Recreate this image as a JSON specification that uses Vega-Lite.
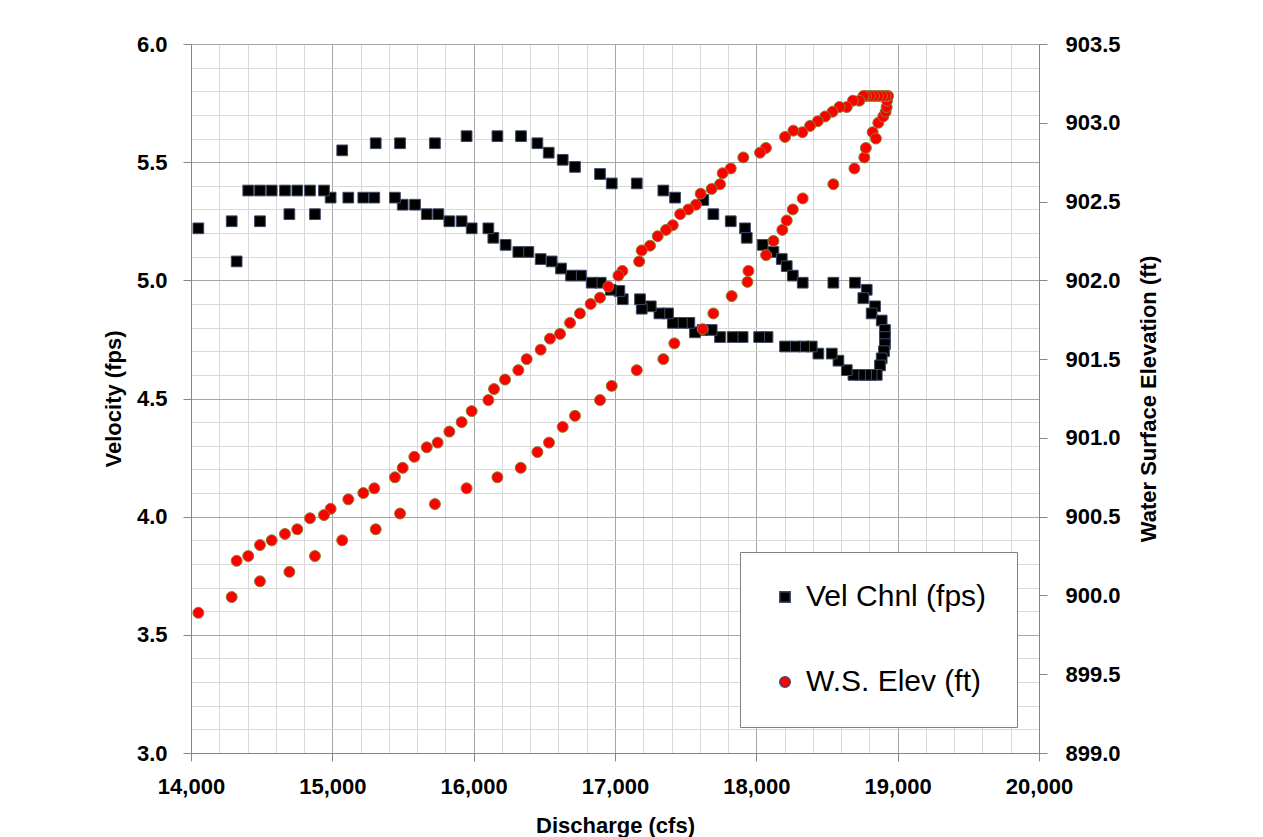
{
  "$schema": "https://vega.github.io/schema/vega-lite/v6.json",
  "width": 848,
  "height": 709,
  "autosize": {"type": "none"},
  "padding": {"left": 191, "top": 44, "right": 224, "bottom": 84},
  "background": "white",
  "config": {
    "view": {"stroke": null},
    "font": "Liberation Sans",
    "axis": {"labelFont": "Liberation Sans", "titleFont": "Liberation Sans", "labelOverlap": false}
  },
  "datasets": {
    "vel": [
      {"q":14052,"v":5.22},{"q":14288,"v":5.25},{"q":14488,"v":5.25},{"q":14696,"v":5.28},{"q":14877,"v":5.28},
      {"q":15070,"v":5.55},{"q":15307,"v":5.58},{"q":15479,"v":5.58},{"q":15726,"v":5.58},{"q":15950,"v":5.61},
      {"q":16168,"v":5.61},{"q":16335,"v":5.61},{"q":16451,"v":5.58},{"q":16531,"v":5.54},{"q":16630,"v":5.51},
      {"q":16717,"v":5.48},{"q":16894,"v":5.45},{"q":16977,"v":5.41},{"q":17154,"v":5.41},{"q":17342,"v":5.38},
      {"q":17425,"v":5.35},{"q":17625,"v":5.34},{"q":17696,"v":5.28},{"q":17819,"v":5.25},{"q":17920,"v":5.22},
      {"q":17932,"v":5.18},{"q":18045,"v":5.15},{"q":18121,"v":5.12},{"q":18180,"v":5.09},{"q":18215,"v":5.06},
      {"q":18258,"v":5.02},{"q":18328,"v":4.99},{"q":18545,"v":4.99},{"q":18698,"v":4.99},{"q":18781,"v":4.96},
      {"q":18757,"v":4.925},{"q":18840,"v":4.89},{"q":18816,"v":4.86},{"q":18887,"v":4.83},{"q":18910,"v":4.79},
      {"q":18910,"v":4.76},{"q":18910,"v":4.73},{"q":18903,"v":4.70},{"q":18887,"v":4.67},{"q":18875,"v":4.64},
      {"q":18852,"v":4.60},{"q":18816,"v":4.60},{"q":18776,"v":4.60},{"q":18734,"v":4.60},{"q":18687,"v":4.60},
      {"q":18640,"v":4.62},{"q":18581,"v":4.66},{"q":18534,"v":4.69},{"q":18439,"v":4.69},{"q":18392,"v":4.72},
      {"q":18338,"v":4.72},{"q":18274,"v":4.72},{"q":18203,"v":4.72},{"q":18079,"v":4.76},{"q":18020,"v":4.76},
      {"q":17903,"v":4.76},{"q":17832,"v":4.76},{"q":17743,"v":4.76},{"q":17684,"v":4.79},{"q":17620,"v":4.79},
      {"q":17566,"v":4.78},{"q":17526,"v":4.82},{"q":17473,"v":4.82},{"q":17409,"v":4.82},{"q":17375,"v":4.86},
      {"q":17314,"v":4.86},{"q":17253,"v":4.89},{"q":17189,"v":4.88},{"q":17177,"v":4.92},{"q":17055,"v":4.92},
      {"q":17031,"v":4.955},{"q":16970,"v":4.96},{"q":16899,"v":4.99},{"q":16835,"v":4.99},{"q":16759,"v":5.02},
      {"q":16689,"v":5.02},{"q":16618,"v":5.05},{"q":16552,"v":5.08},{"q":16474,"v":5.09},{"q":16387,"v":5.12},
      {"q":16316,"v":5.12},{"q":16226,"v":5.15},{"q":16139,"v":5.18},{"q":16104,"v":5.22},{"q":15986,"v":5.22},
      {"q":15915,"v":5.25},{"q":15828,"v":5.25},{"q":15750,"v":5.28},{"q":15668,"v":5.28},{"q":15585,"v":5.32},
      {"q":15498,"v":5.32},{"q":15443,"v":5.35},{"q":15297,"v":5.35},{"q":15219,"v":5.35},{"q":15113,"v":5.35},
      {"q":14988,"v":5.35},{"q":14941,"v":5.38},{"q":14842,"v":5.38},{"q":14752,"v":5.38},{"q":14665,"v":5.38},
      {"q":14571,"v":5.38},{"q":14488,"v":5.38},{"q":14405,"v":5.38},{"q":14323,"v":5.08}
    ],
    "elev": [
      {"q":14052,"e":899.89},{"q":14288,"e":899.99},{"q":14488,"e":900.09},{"q":14696,"e":900.15},{"q":14877,"e":900.25},
      {"q":15070,"e":900.35},{"q":15307,"e":900.42},{"q":15479,"e":900.52},{"q":15726,"e":900.58},{"q":15950,"e":900.68},
      {"q":16168,"e":900.75},{"q":16333,"e":900.81},{"q":16451,"e":900.91},{"q":16533,"e":900.97},{"q":16630,"e":901.07},
      {"q":16717,"e":901.14},{"q":16894,"e":901.24},{"q":16977,"e":901.33},{"q":17154,"e":901.43},{"q":17342,"e":901.50},
      {"q":17420,"e":901.60},{"q":17620,"e":901.69},{"q":17696,"e":901.79},{"q":17826,"e":901.90},{"q":17937,"e":901.99},
      {"q":17944,"e":902.06},{"q":18069,"e":902.16},{"q":18121,"e":902.25},{"q":18184,"e":902.32},{"q":18215,"e":902.38},
      {"q":18258,"e":902.45},{"q":18328,"e":902.52},{"q":18545,"e":902.61},{"q":18694,"e":902.71},{"q":18764,"e":902.78},
      {"q":18775,"e":902.84},{"q":18823,"e":902.94},{"q":18846,"e":902.90},{"q":18863,"e":903.00},{"q":18898,"e":903.04},
      {"q":18915,"e":903.07},{"q":18922,"e":903.10},{"q":18925,"e":903.14},{"q":18932,"e":903.17},{"q":18914,"e":903.17},
      {"q":18889,"e":903.17},{"q":18861,"e":903.17},{"q":18832,"e":903.17},{"q":18804,"e":903.17},{"q":18776,"e":903.17},
      {"q":18758,"e":903.17},{"q":18729,"e":903.14},{"q":18683,"e":903.14},{"q":18640,"e":903.10},{"q":18588,"e":903.10},
      {"q":18539,"e":903.07},{"q":18487,"e":903.04},{"q":18435,"e":903.01},{"q":18380,"e":902.98},{"q":18326,"e":902.94},
      {"q":18262,"e":902.95},{"q":18203,"e":902.91},{"q":18068,"e":902.84},{"q":18026,"e":902.81},{"q":17908,"e":902.78},
      {"q":17819,"e":902.71},{"q":17762,"e":902.68},{"q":17743,"e":902.61},{"q":17684,"e":902.58},{"q":17606,"e":902.55},
      {"q":17573,"e":902.48},{"q":17519,"e":902.45},{"q":17461,"e":902.42},{"q":17409,"e":902.35},{"q":17361,"e":902.32},
      {"q":17302,"e":902.28},{"q":17248,"e":902.22},{"q":17189,"e":902.19},{"q":17171,"e":902.12},{"q":17052,"e":902.06},
      {"q":17024,"e":902.03},{"q":16953,"e":901.96},{"q":16894,"e":901.89},{"q":16828,"e":901.85},{"q":16752,"e":901.79},
      {"q":16682,"e":901.73},{"q":16611,"e":901.66},{"q":16540,"e":901.63},{"q":16474,"e":901.56},{"q":16375,"e":901.50},
      {"q":16316,"e":901.43},{"q":16222,"e":901.37},{"q":16144,"e":901.31},{"q":16104,"e":901.24},{"q":15986,"e":901.17},
      {"q":15915,"e":901.10},{"q":15828,"e":901.04},{"q":15745,"e":900.97},{"q":15668,"e":900.94},{"q":15580,"e":900.88},
      {"q":15498,"e":900.81},{"q":15443,"e":900.75},{"q":15297,"e":900.68},{"q":15219,"e":900.65},{"q":15113,"e":900.61},
      {"q":14988,"e":900.55},{"q":14941,"e":900.51},{"q":14842,"e":900.49},{"q":14752,"e":900.42},{"q":14665,"e":900.39},
      {"q":14571,"e":900.35},{"q":14488,"e":900.32},{"q":14405,"e":900.25},{"q":14323,"e":900.22}
    ]
  },
  "layer": [
    {
      "data": {"name": "vel"},
      "mark": {"type": "point", "shape": "square", "filled": true, "size": 115, "opacity": 1, "stroke": "#3f4a68", "strokeWidth": 1},
      "encoding": {
        "x": {
          "field": "q", "type": "quantitative",
          "scale": {"domain": [14000, 20000], "nice": false, "zero": false},
          "axis": {
            "values": [14000,14200,14400,14600,14800,15000,15200,15400,15600,15800,16000,16200,16400,16600,16800,17000,17200,17400,17600,17800,18000,18200,18400,18600,18800,19000,19200,19400,19600,19800,20000],
            "title": "Discharge (cfs)", "titleFontSize": 22, "titleFontWeight": "bold", "titleColor": "#000000", "titlePadding": 18,
            "labelExpr": "datum.value % 1000 === 0 ? format(datum.value, ',') : ''",
            "labelFontSize": 22, "labelFontWeight": "bold", "labelColor": "#000000", "labelPadding": 15,
            "labelOverlap": false, "labelFlush": false, "labelBound": false,
            "tickSize": 8, "tickColor": "#868686",
            "tickOpacity": {"condition": {"test": "datum.value % 1000 === 0", "value": 1}, "value": 0},
            "grid": true,
            "gridColor": {"condition": {"test": "datum.value % 1000 === 0", "value": "#a6a6a6"}, "value": "#d9d9d9"},
            "gridWidth": 1,
            "domainColor": "#868686"
          }
        },
        "y": {
          "field": "v", "type": "quantitative",
          "scale": {"domain": [3, 6], "nice": false, "zero": false},
          "axis": {
            "orient": "left",
            "values": [3,3.1,3.2,3.3,3.4,3.5,3.6,3.7,3.8,3.9,4,4.1,4.2,4.3,4.4,4.5,4.6,4.7,4.8,4.9,5,5.1,5.2,5.3,5.4,5.5,5.6,5.7,5.8,5.9,6],
            "title": "Velocity (fps)", "titleFontSize": 22, "titleFontWeight": "bold", "titleColor": "#000000", "titlePadding": 11,
            "labelExpr": "abs(datum.value*2 - round(datum.value*2)) < 0.001 ? format(datum.value, '.1f') : ''",
            "labelFontSize": 22, "labelFontWeight": "bold", "labelColor": "#000000", "labelPadding": 16,
            "labelOverlap": false, "labelFlush": false, "labelBound": false,
            "tickSize": 8, "tickColor": "#868686",
            "tickOpacity": {"condition": {"test": "abs(datum.value*2 - round(datum.value*2)) < 0.001", "value": 1}, "value": 0},
            "grid": true,
            "gridColor": {"condition": {"test": "abs(datum.value*2 - round(datum.value*2)) < 0.001", "value": "#a6a6a6"}, "value": "#d9d9d9"},
            "gridWidth": 1,
            "domainColor": "#868686"
          }
        },
        "color": {
          "datum": "Vel Chnl (fps)", "type": "nominal",
          "scale": {"domain": ["Vel Chnl (fps)", "W.S. Elev (ft)"], "range": ["#000000", "#ff0000"]},
          "legend": {"orient": "none", "legendX": 549, "legendY": 508, "title": null, "direction": "vertical",
            "fillColor": "#ffffff", "strokeColor": "#808080", "padding": 30, "rowPadding": 55,
            "symbolSize": 110, "symbolOffset": 0, "labelOffset": 6, "labelFontSize": 30, "labelFont": "Liberation Sans", "labelColor": "#000000", "labelLimit": 400}
        },
        "shape": {
          "datum": "Vel Chnl (fps)", "type": "nominal",
          "scale": {"domain": ["Vel Chnl (fps)", "W.S. Elev (ft)"], "range": ["square", "circle"]},
          "legend": {"orient": "none", "legendX": 549, "legendY": 508, "title": null, "direction": "vertical",
            "fillColor": "#ffffff", "strokeColor": "#808080", "padding": 30, "rowPadding": 55,
            "symbolSize": 110, "symbolOffset": 0, "labelOffset": 6, "labelFontSize": 30, "labelFont": "Liberation Sans", "labelColor": "#000000", "labelLimit": 400}
        }
      }
    },
    {
      "data": {"name": "elev"},
      "mark": {"type": "point", "shape": "circle", "filled": true, "size": 120, "opacity": 1, "stroke": "#8c7d2e", "strokeWidth": 1},
      "encoding": {
        "x": {
          "field": "q", "type": "quantitative",
          "scale": {"domain": [14000, 20000], "nice": false, "zero": false},
          "axis": {
            "values": [14000,14200,14400,14600,14800,15000,15200,15400,15600,15800,16000,16200,16400,16600,16800,17000,17200,17400,17600,17800,18000,18200,18400,18600,18800,19000,19200,19400,19600,19800,20000],
            "title": "Discharge (cfs)", "titleFontSize": 22, "titleFontWeight": "bold", "titleColor": "#000000", "titlePadding": 18,
            "labelExpr": "datum.value % 1000 === 0 ? format(datum.value, ',') : ''",
            "labelFontSize": 22, "labelFontWeight": "bold", "labelColor": "#000000", "labelPadding": 15,
            "labelOverlap": false, "labelFlush": false, "labelBound": false,
            "tickSize": 8, "tickColor": "#868686",
            "tickOpacity": {"condition": {"test": "datum.value % 1000 === 0", "value": 1}, "value": 0},
            "grid": true,
            "gridColor": {"condition": {"test": "datum.value % 1000 === 0", "value": "#a6a6a6"}, "value": "#d9d9d9"},
            "gridWidth": 1,
            "domainColor": "#868686"
          }
        },
        "y": {
          "field": "e", "type": "quantitative",
          "scale": {"domain": [899, 903.5], "nice": false, "zero": false},
          "axis": {
            "orient": "right",
            "values": [899,899.5,900,900.5,901,901.5,902,902.5,903,903.5],
            "format": ".1f",
            "title": "Water Surface Elevation (ft)", "titleFontSize": 22, "titleFontWeight": "bold", "titleColor": "#000000",
            "titleAngle": 270, "titleBaseline": "top", "titlePadding": 18,
            "labelFontSize": 22, "labelFontWeight": "bold", "labelColor": "#000000", "labelPadding": 18,
            "labelOverlap": false, "labelFlush": false, "labelBound": false,
            "tickSize": 8, "tickColor": "#868686",
            "grid": false,
            "domainColor": "#868686"
          }
        },
        "color": {"datum": "W.S. Elev (ft)", "type": "nominal"},
        "shape": {"datum": "W.S. Elev (ft)", "type": "nominal"}
      }
    }
  ],
  "resolve": {"scale": {"y": "independent"}}
}
